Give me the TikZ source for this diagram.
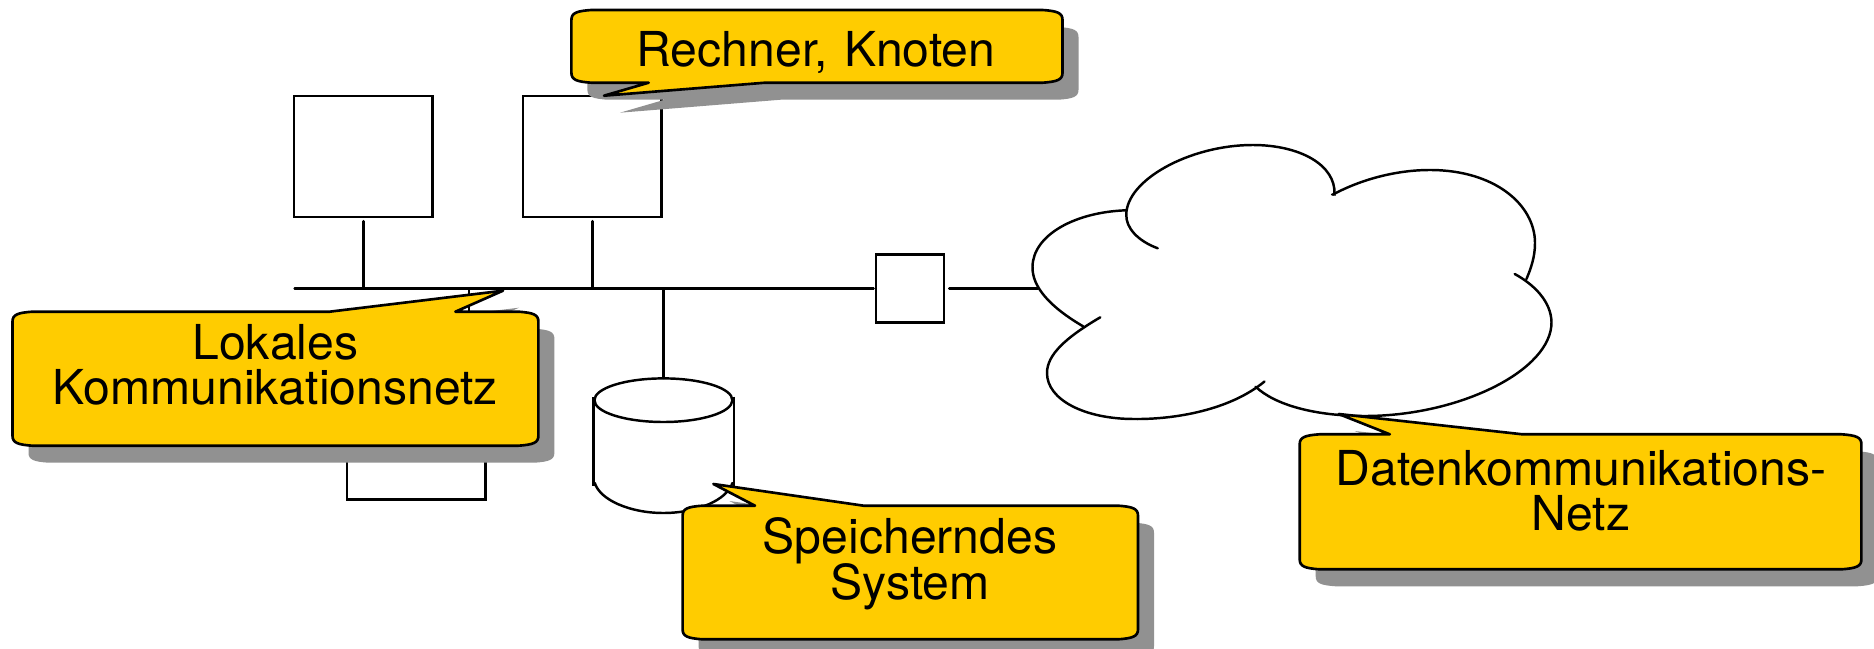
\documentclass[tikz,border=0pt]{standalone}
\usepackage{fontspec}
\setmainfont{TeX Gyre Heros}
\usepackage{xcolor}
\definecolor{calloutyellow}{HTML}{FFCC00}
\definecolor{calloutgray}{HTML}{919191}
\newcommand{\calloutpath}[8]{(#1,#2+10) .. controls (#1,#2+3) and (#1+5,#2+1) .. (#1+20,#2) -- (#5,#2) -- (#7,#8) -- (#6,#2) -- (#3-20,#2) .. controls (#3-5,#2+1) and (#3,#2+3) .. (#3,#2+10) -- (#3,#4-10) .. controls (#3,#4-3) and (#3-5,#4-1) .. (#3-20,#4) -- (#1+20,#4) .. controls (#1+5,#4-1) and (#1,#4-3) .. (#1,#4-10) -- cycle}
\newcommand{\calloutpathlow}[8]{(#1,#2+10) .. controls (#1,#2+3) and (#1+5,#2+1) .. (#1+20,#2) -- (#3-20,#2) .. controls (#3-5,#2+1) and (#3,#2+3) .. (#3,#2+10) -- (#3,#4-10) .. controls (#3,#4-3) and (#3-5,#4-1) .. (#3-20,#4) -- (#6,#4) -- (#7,#8) -- (#5,#4) -- (#1+20,#4) .. controls (#1+5,#4-1) and (#1,#4-3) .. (#1,#4-10) -- cycle}
\tikzset{
  netline/.style={line width=1.4pt,line cap=round},
  hostbox/.style={draw,line width=1.4pt,inner sep=0,minimum width=2.772cm,minimum height=2.42cm},
  gatewaybox/.style={draw,line width=1.4pt,inner sep=0,minimum width=1.36cm,minimum height=1.36cm},
  calloutbody/.style={draw=black,fill=calloutyellow,line width=1.5pt,line join=round},
  calloutshadow/.style={fill=calloutgray,shift={(16,17)}},
  calloutlabel/.style={inner sep=0,text width=11cm,align=center,font=\fontsize{27.4}{25.6}\selectfont}
}
\begin{document}
\begin{tikzpicture}[x=.02cm,y=-.02cm]
\clip (0,0) rectangle (1874,649);
\coordinate (busL) at (294.6,288.7);
\coordinate (busR) at (873.6,288.7);
\coordinate (wolke) at (1038,288.7);
\node[hostbox] (rechnerA) at (363.4,156.5) {};
\node[hostbox] (rechnerB) at (592.4,156.5) {};
\node[hostbox] (rechnerC) at (416.3,438.8) {};
\node[gatewaybox] (gateway) at (910,288.7) {};
\draw[netline] (busL) -- (busR);
\draw[netline] ([yshift=-.06cm]rechnerA.south) -- (rechnerA |- busL);
\draw[netline] ([yshift=-.06cm]rechnerB.south) -- (rechnerB |- busL);
\draw[netline] (469,288.7) -- (469,378);
\draw[netline] ([xshift=.08cm]gateway.east) -- (wolke);
\coordinate (speicherTop) at (663.4,378);
\draw[netline] (speicherTop |- busL) -- (speicherTop);
\draw[netline] (663.4,400.2) ellipse (69 and 21.8);
\draw[netline,line cap=butt] (593.3,396.7) -- (593.3,485.7);
\draw[netline,line cap=butt] (734,396.7) -- (734,485.7);
\draw[netline] (594.8,483) .. controls (600,500) and (630,513) .. (663.4,513) .. controls (697,513) and (727,500) .. (732.4,483);
\draw[netline] (1157.7,248.3) .. controls (1138,241) and (1126,228) .. (1126.3,215) .. controls (1126,180) and (1190,145) .. (1252.6,145) .. controls (1300,145) and (1336,165) .. (1334.5,194.5) -- (1332,194.5);
\draw[netline] (1333,194.5) .. controls (1360,180) and (1395,170) .. (1430,170) .. controls (1495,170) and (1535,205) .. (1535,243) .. controls (1535,257) and (1531,268) .. (1526.5,279);
\draw[netline] (1514.7,274) .. controls (1535,285) and (1551,302) .. (1551.5,322) .. controls (1552,370) and (1460,416) .. (1365,416) .. controls (1315,416) and (1275,405) .. (1255.6,386.7);
\draw[netline] (1264.5,381.5) .. controls (1230,410) and (1175,419.5) .. (1134,419) .. controls (1085,419) and (1047,400) .. (1047,373) .. controls (1047,355) and (1065,338) .. (1100.3,317.3);
\draw[netline] (1083.4,326.5) .. controls (1050,307) and (1032,287) .. (1032.5,266.7) .. controls (1033,235) and (1075,212) .. (1126.3,210.3);
\fill[calloutshadow] \calloutpathlow{571.4}{10}{1062.5}{82.7}{648.7}{765}{604}{95.7};
\draw[calloutbody] \calloutpathlow{571.4}{10}{1062.5}{82.7}{648.7}{765}{604}{95.7};
\node[calloutlabel,anchor=base] (rechnerText) at (816,66) {Rechner, Knoten};
\fill[calloutshadow] \calloutpath{12.5}{311.7}{538.4}{445.7}{329.5}{455.4}{503}{290.7};
\draw[calloutbody] \calloutpath{12.5}{311.7}{538.4}{445.7}{329.5}{455.4}{503}{290.7};
\node[calloutlabel] (lokalText) at (275.4,365) {Lokales\\Kommunikationsnetz};
\fill[calloutshadow] \calloutpath{682.6}{505.7}{1138}{639.3}{755}{863.7}{713.4}{484};
\draw[calloutbody] \calloutpath{682.6}{505.7}{1138}{639.3}{755}{863.7}{713.4}{484};
\node[calloutlabel] (speicherText) at (910,564) {Speicherndes\\[-1.4pt]System};
\fill[calloutshadow] \calloutpath{1299.7}{434.3}{1861.4}{569.3}{1389.8}{1522.4}{1338.7}{414};
\draw[calloutbody] \calloutpath{1299.7}{434.3}{1861.4}{569.3}{1389.8}{1522.4}{1338.7}{414};
\node[calloutlabel] (datenText) at (1581,491) {Datenkommunikations-\\Netz};
\end{tikzpicture}
\end{document}
